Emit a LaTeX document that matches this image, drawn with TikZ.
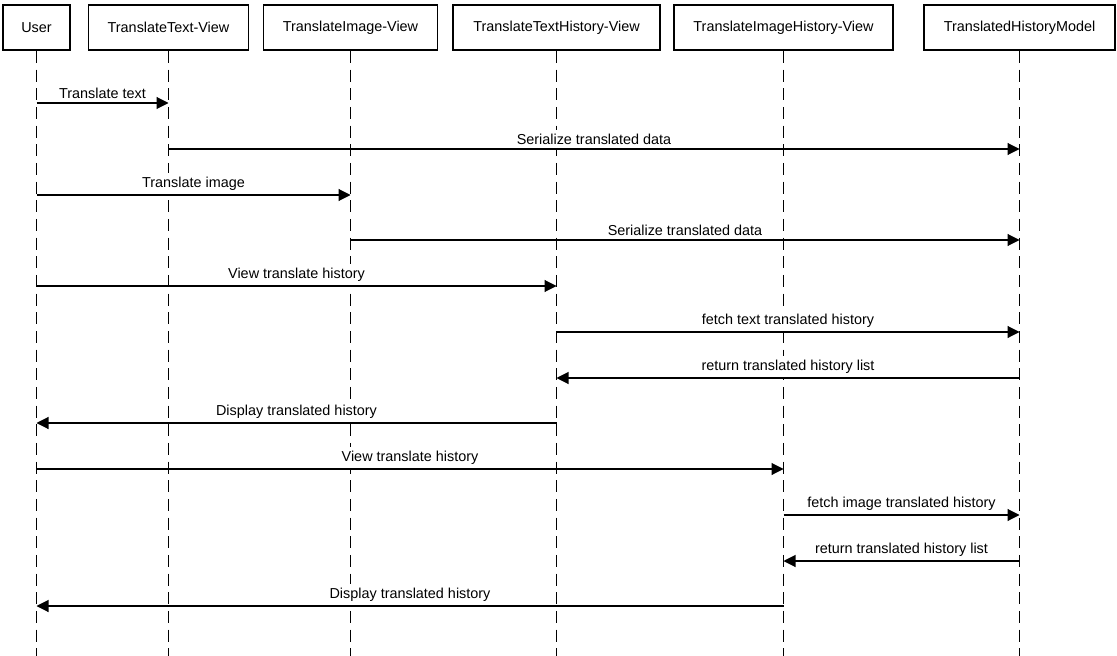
\documentclass[tikz,border=0pt]{standalone}
\usepackage{fontspec}
\setmainfont{Liberation Sans}
\usetikzlibrary{arrows.meta}
\tikzset{
  actor/.style={draw,line width=1.4pt,fill=white,minimum height=33.75pt,inner sep=0pt,font=\fontsize{10.8}{12}\selectfont},
  lifeline/.style={line width=0.8pt,dash pattern=on 9pt off 5pt},
  msg/.style={line width=0.8pt,-{Triangle[length=9pt,width=9pt]}},
  lbl/.style={above,fill=white,inner sep=3pt,font=\fontsize{10.8}{12}\selectfont}
}

\begin{document}
\begin{tikzpicture}[x=0.75pt,y=-0.75pt]
      \useasboundingbox (0,0) rectangle (1117,656);
      % participants
      \node[actor,minimum width=50.25pt] (user) at (36.5,27.5) {User};
      \node[actor,minimum width=120pt] (ttv) at (168.5,27.5) {TranslateText-View};
      \node[actor,minimum width=130.5pt] (tiv) at (350.5,27.5) {TranslateImage-View};
      \node[actor,minimum width=155.25pt] (tthv) at (556.5,27.5) {TranslateTextHistory-View};
      \node[actor,minimum width=164.25pt] (tihv) at (783.5,27.5) {TranslateImageHistory-View};
      \node[actor,minimum width=143.25pt] (thm) at (1019.5,27.5) {TranslatedHistoryModel};

      % lifelines
      \coordinate (userEnd) at (user |- 0,656);
      \coordinate (ttvEnd) at (ttv |- 0,656);
      \coordinate (tivEnd) at (tiv |- 0,656);
      \coordinate (tthvEnd) at (tthv |- 0,656);
      \coordinate (tihvEnd) at (tihv |- 0,656);
      \coordinate (thmEnd) at (thm |- 0,656);
      \draw[lifeline] (user.south) -- (userEnd);
      \draw[lifeline] (ttv.south) -- (ttvEnd);
      \draw[lifeline] (tiv.south) -- (tivEnd);
      \draw[lifeline] (tthv.south) -- (tthvEnd);
      \draw[lifeline] (tihv.south) -- (tihvEnd);
      \draw[lifeline] (thm.south) -- (thmEnd);

      % messages
      \draw[msg] (user |- 0,103) -- node[lbl] {Translate text} (ttv |- 0,103);
      \draw[msg] (ttv |- 0,149) -- node[lbl] {Serialize translated data} (thm |- 0,149);
      \draw[msg] (user |- 0,195) -- node[lbl] {Translate image} (tiv |- 0,195);
      \draw[msg] (tiv |- 0,240) -- node[lbl] {Serialize translated data} (thm |- 0,240);
      \draw[msg] (user |- 0,286) -- node[lbl] {View translate history} (tthv |- 0,286);
      \draw[msg] (tthv |- 0,332) -- node[lbl] {fetch text translated history} (thm |- 0,332);
      \draw[msg] (thm |- 0,378) -- node[lbl] {return translated history list} (tthv |- 0,378);
      \draw[msg] (tthv |- 0,423) -- node[lbl] {Display translated history} (user |- 0,423);
      \draw[msg] (user |- 0,469) -- node[lbl] {View translate history} (tihv |- 0,469);
      \draw[msg] (tihv |- 0,515) -- node[lbl] {fetch image translated history} (thm |- 0,515);
      \draw[msg] (thm |- 0,561) -- node[lbl] {return translated history list} (tihv |- 0,561);
      \draw[msg] (tihv |- 0,606) -- node[lbl] {Display translated history} (user |- 0,606);
\end{tikzpicture}
\end{document}
